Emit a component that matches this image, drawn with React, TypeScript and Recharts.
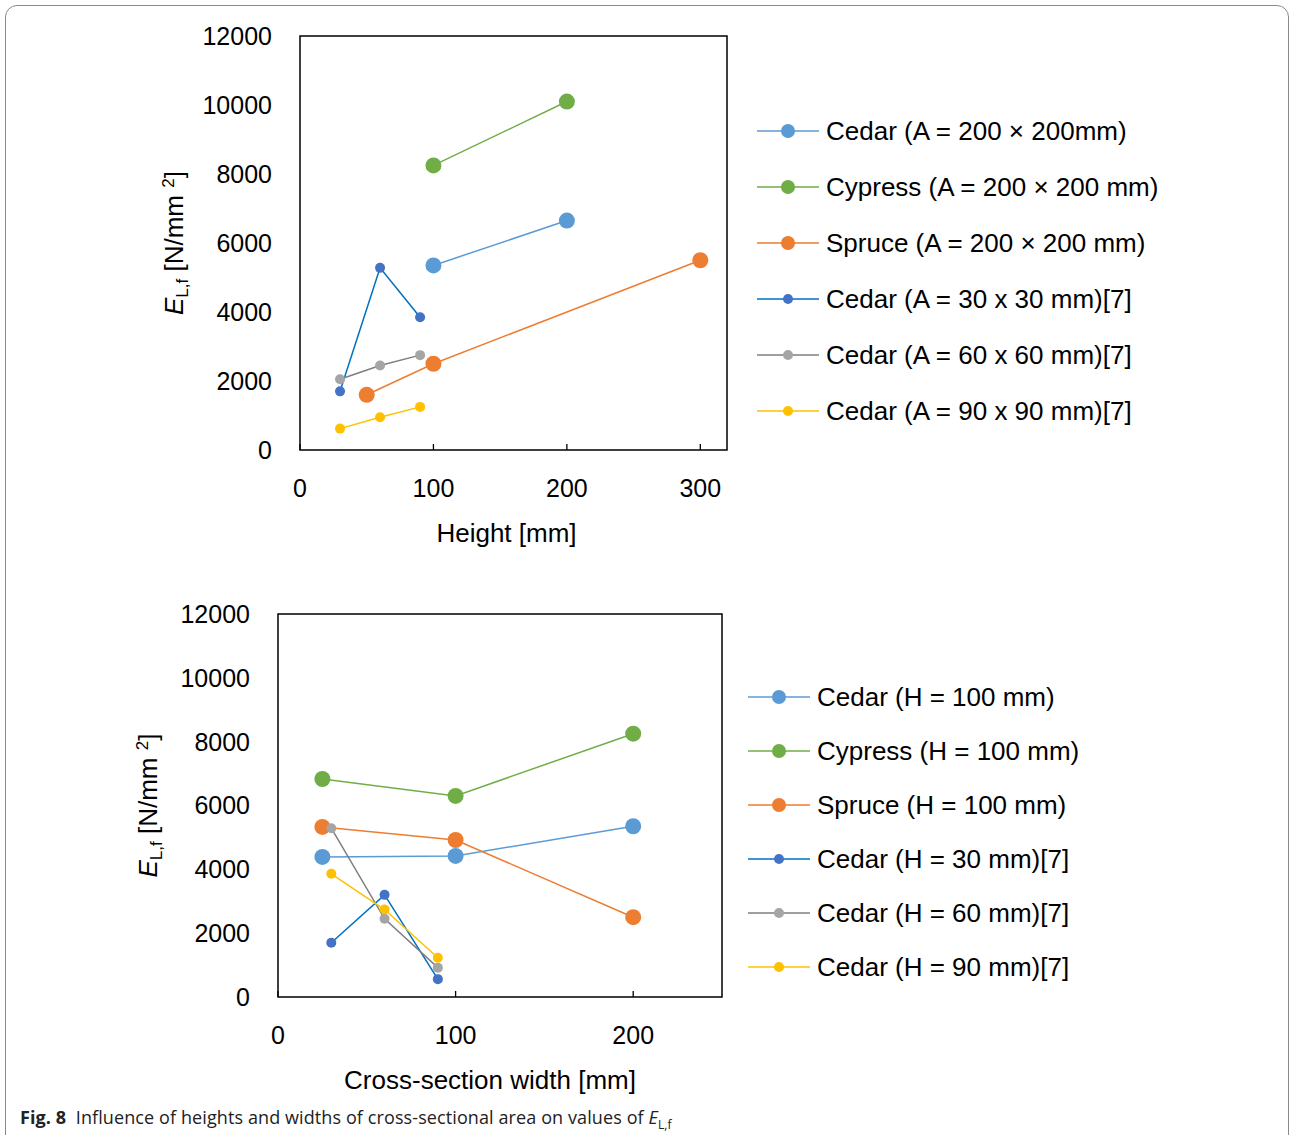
import React from 'react'
import { ScatterChart, Scatter, XAxis, YAxis, ReferenceArea, Legend } from 'recharts'

const FONT = '"Liberation Sans", Arial, sans-serif'

const yTicks = [0, 2000, 4000, 6000, 8000, 10000, 12000]

// top panel: E_L,f against height
const heightTicks = [0, 100, 200, 300]
const heightNames = [
  'Cedar (A = 200 × 200mm)',
  'Cypress (A = 200 × 200 mm)',
  'Spruce (A = 200 × 200 mm)',
  'Cedar (A = 30 x 30 mm)[7]',
  'Cedar (A = 60 x 60 mm)[7]',
  'Cedar (A = 90 x 90 mm)[7]',
]
const hCedarX = [100, 200]
const hCedarY = [5350, 6650]
const hCypressX = [100, 200]
const hCypressY = [8250, 10100]
const hSpruceX = [50, 100, 300]
const hSpruceY = [1600, 2500, 5500]
const hCedar30X = [30, 60, 90]
const hCedar30Y = [1700, 5280, 3850]
const hCedar60X = [30, 60, 90]
const hCedar60Y = [2050, 2450, 2750]
const hCedar90X = [30, 60, 90]
const hCedar90Y = [620, 950, 1250]

// bottom panel: E_L,f against cross-section width
const widthTicks = [0, 100, 200]
const widthNames = [
  'Cedar (H = 100 mm)',
  'Cypress (H = 100 mm)',
  'Spruce (H = 100 mm)',
  'Cedar (H = 30 mm)[7]',
  'Cedar (H = 60 mm)[7]',
  'Cedar (H = 90 mm)[7]',
]
const wCedarX = [25, 100, 200]
const wCedarY = [4390, 4420, 5350]
const wCypressX = [25, 100, 200]
const wCypressY = [6830, 6300, 8250]
const wSpruceX = [25, 100, 200]
const wSpruceY = [5330, 4920, 2500]
const wCedar30X = [30, 60, 90]
const wCedar30Y = [1700, 3200, 560]
const wCedar60X = [30, 60, 90]
const wCedar60Y = [5290, 2450, 920]
const wCedar90X = [30, 60, 90]
const wCedar90Y = [3860, 2740, 1230]

const styles = [
  { fill: '#5B9BD5', stroke: '#5B9BD5', r: 8, lr: 7 },
  { fill: '#70AD47', stroke: '#70AD47', r: 8, lr: 7 },
  { fill: '#ED7D31', stroke: '#ED7D31', r: 8, lr: 7 },
  { fill: '#4472C4', stroke: '#0070C0', r: 5, lr: 5 },
  { fill: '#A5A5A5', stroke: '#7F7F7F', r: 5, lr: 5 },
  { fill: '#FFC000', stroke: '#FFC000', r: 5, lr: 5 },
]

const pts = (xs: number[], ys: number[]) => xs.map((x, i) => ({ x, y: ys[i] }))

const heightSeries = [
  pts(hCedarX, hCedarY),
  pts(hCypressX, hCypressY),
  pts(hSpruceX, hSpruceY),
  pts(hCedar30X, hCedar30Y),
  pts(hCedar60X, hCedar60Y),
  pts(hCedar90X, hCedar90Y),
].map((data, i) => ({ data, name: heightNames[i], ...styles[i] }))

const widthSeries = [
  pts(wCedarX, wCedarY),
  pts(wCypressX, wCypressY),
  pts(wSpruceX, wSpruceY),
  pts(wCedar30X, wCedar30Y),
  pts(wCedar60X, wCedar60Y),
  pts(wCedar90X, wCedar90Y),
].map((data, i) => ({ data, name: widthNames[i], ...styles[i] }))

function YTitle({ viewBox, cx }: any) {
  const cy = viewBox.y + viewBox.height / 2
  return (
    <text
      x={cx}
      y={cy}
      transform={`rotate(-90, ${cx}, ${cy})`}
      textAnchor="middle"
      dy="0.35em"
      fontFamily={FONT}
      fontSize={26}
      fill="#000"
    >
      <tspan fontStyle="italic">E</tspan>
      <tspan fontSize={17} dy={5}>L,f</tspan>
      <tspan dy={-5}> [N/mm </tspan>
      <tspan fontSize={17} dy={-9}>2</tspan>
      <tspan dy={9}>]</tspan>
    </text>
  )
}

function Panel({ top, height, margin, xDomain, xTicks, series, xTitle, xTitleDx, yTitleX, legendLeft, legendTop, gap }: any) {
  const legend = () => (
    <svg width={480} height={gap * 6} style={{ display: 'block' }}>
      {series.map((s: any, i: number) => (
        <g key={i} transform={`translate(0, ${gap / 2 + i * gap})`}>
          <line x1={0} x2={62} y1={0} y2={0} stroke={s.stroke} strokeWidth={1.5} />
          <circle cx={31} cy={0} r={s.lr} fill={s.fill} />
          <text x={69} y={0} dy="0.35em" fontFamily={FONT} fontSize={26} fill="#000">
            {s.name}
          </text>
        </g>
      ))}
    </svg>
  )
  return (
    <div style={{ position: 'absolute', left: 0, top, width: 1290, height }}>
      <ScatterChart width={1290} height={height} margin={margin}>
        <XAxis
          type="number"
          dataKey="x"
          domain={xDomain}
          ticks={xTicks}
          allowDataOverflow
          axisLine={false}
          tickSize={-6}
          tickMargin={35}
          tickLine={{ stroke: '#000', strokeWidth: 1.3 }}
          tick={{ fill: '#000', fontSize: 25, fontFamily: FONT }}
          height={60}
          label={{
            content: ({ viewBox }: any) => (
              <text
                x={viewBox.x + viewBox.width / 2 + xTitleDx}
                y={viewBox.y + 92}
                textAnchor="middle"
                fontFamily={FONT}
                fontSize={26}
                fill="#000"
              >
                {xTitle}
              </text>
            ),
          }}
        />
        <YAxis
          type="number"
          dataKey="y"
          domain={[0, 12000]}
          ticks={yTicks}
          allowDataOverflow
          axisLine={false}
          tickLine={false}
          tickSize={0}
          tickMargin={28}
          tick={{ fill: '#000', fontSize: 25, fontFamily: FONT }}
          width={60}
          label={{ content: (p: any) => <YTitle viewBox={p.viewBox} cx={yTitleX} /> }}
        />
        <ReferenceArea
          x1={xDomain[0]}
          x2={xDomain[1]}
          y1={0}
          y2={12000}
          fill="none"
          fillOpacity={0}
          stroke="#000"
          strokeWidth={1.5}
        />
        {series.map((s: any) => (
          <Scatter
            key={s.name}
            name={s.name}
            data={s.data}
            fill={s.fill}
            line={{ stroke: s.stroke, strokeWidth: 1.5 }}
            lineType="joint"
            isAnimationActive={false}
            shape={(p: any) => <circle cx={p.cx} cy={p.cy} r={s.r} fill={s.fill} />}
          />
        ))}
        <Legend
          layout="horizontal"
          verticalAlign="middle"
          content={legend}
          wrapperStyle={{ left: legendLeft, top: legendTop, width: 480 }}
        />
      </ScatterChart>
    </div>
  )
}

export default function App() {
  return (
    <div style={{ position: 'absolute', left: 0, top: 0, width: 1290, height: 1135, background: '#fff', overflow: 'hidden' }}>
      <div
        style={{
          position: 'absolute',
          left: 5,
          top: 5,
          width: 1282,
          height: 1150,
          border: '1px solid #8a8a8a',
          borderRadius: 12,
        }}
      />
      <Panel
        top={0}
        height={570}
        margin={{ top: 36, right: 563, bottom: 60, left: 240 }}
        xDomain={[0, 320]}
        xTicks={heightTicks}
        series={heightSeries}
        xTitle="Height [mm]"
        xTitleDx={-7}
        yTitleX={174}
        legendLeft={757}
        legendTop={103}
        gap={56}
      />
      <Panel
        top={580}
        height={560}
        margin={{ top: 34, right: 568, bottom: 83, left: 218 }}
        xDomain={[0, 250]}
        xTicks={widthTicks}
        series={widthSeries}
        xTitle="Cross-section width [mm]"
        xTitleDx={-10}
        yTitleX={148}
        legendLeft={748}
        legendTop={90}
        gap={54}
      />
      <div
        style={{
          position: 'absolute',
          left: 20,
          top: 1105,
          fontFamily: '"Open Sans", "Noto Sans", sans-serif',
          fontSize: 18,
          letterSpacing: 0.1,
          color: '#222',
          whiteSpace: 'nowrap',
        }}
      >
        <b>Fig. 8</b>&nbsp; Influence of heights and widths of cross-sectional area on values of{' '}
        <i>E</i>
        <sub style={{ fontSize: 12 }}>L,f</sub>
      </div>
    </div>
  )
}
